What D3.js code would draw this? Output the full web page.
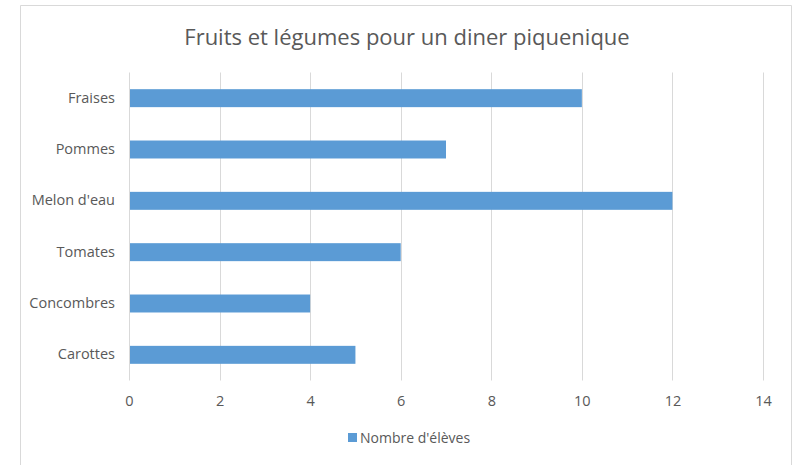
<!DOCTYPE html>
<html><head><meta charset="utf-8">
<script src="https://cdn.jsdelivr.net/npm/d3@7/dist/d3.min.js"></script>
<style>body{margin:0;background:#fff;}svg{display:block;}text{font-family:"Open Sans",sans-serif;fill:#595959;}</style>
</head><body>
<svg id="c" width="800" height="465"></svg>
<script>
const categories = ["Fraises","Pommes","Melon d'eau","Tomates","Concombres","Carottes"];
const values = [10,7,12,6,4,5];
const xTicks = [0,2,4,6,8,10,12,14];
const seriesName = "Nombre d'élèves";
const title = "Fruits et légumes pour un diner piquenique";

const svg = d3.select("#c");
// outer border
svg.append("path").attr("d","M20.5,470 V5.5 H791.5 V470").attr("fill","none").attr("stroke","#d9d9d9").attr("stroke-width",1);

const x = d3.scaleLinear().domain([0,14]).range([129,763]);
const y = d3.scaleBand().domain(categories).range([72.5,380.5]).paddingInner(0.65).paddingOuter(0.325);

svg.append("text").attr("x",407).attr("y",45).attr("text-anchor","middle").style("font-size","22px").text(title);

const grid = svg.append("g");
grid.selectAll("line").data(xTicks).join("line")
  .attr("x1",d=>Math.round(x(d))+0.5).attr("x2",d=>Math.round(x(d))+0.5)
  .attr("y1",72.5).attr("y2",380.5).attr("stroke","#d9d9d9").attr("stroke-width",1);

svg.append("g").selectAll("rect").data(values).join("rect")
  .attr("x",x(0)+1).attr("y",(d,i)=>y(categories[i])).attr("height",y.bandwidth())
  .attr("width",d=>x(d)-x(0)-1).attr("fill","#5b9bd5");

const xa = svg.append("g").attr("transform","translate(0,380.5)")
  .call(d3.axisBottom(x).tickValues(xTicks).tickSize(0).tickPadding(15));
xa.select(".domain").remove();
xa.selectAll("text").style("font-size","14.5px").attr("fill","#595959").style("font-family","'Open Sans',sans-serif");

const ya = svg.append("g").attr("transform","translate(129,0)")
  .call(d3.axisLeft(y).tickSize(0).tickPadding(14));
ya.select(".domain").remove();
ya.selectAll("text").style("font-size","14.5px").attr("fill","#595959").style("font-family","'Open Sans',sans-serif");

const lg = svg.append("g");
lg.append("rect").attr("x",348).attr("y",433).attr("width",9).attr("height",9).attr("fill","#5b9bd5");
lg.append("text").attr("x",360).attr("y",443).style("font-size","14px").text(seriesName);
</script>
</body></html>
